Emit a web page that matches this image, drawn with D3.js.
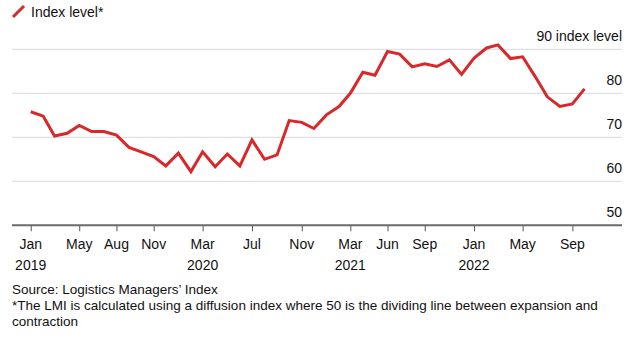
<!DOCTYPE html>
<head>
<meta charset="utf-8">
<script src="https://d3js.org/d3.v7.min.js"></script>
<style>
  body { margin: 0; background: #fff; }
  text { font-family: "Liberation Sans", Arial, sans-serif; fill: #111; }
</style>
</head>
<body>
<div id="chart"></div>
<script>
// Monthly LMI readings, Jan 2019 .. Oct 2022
var startMonth = "2019-01";
var lmi = [75.8, 74.8, 70.3, 70.9, 72.7, 71.3, 71.3, 70.5, 67.7, 66.7, 65.6, 63.5,
           66.4, 62.2, 66.7, 63.3, 66.2, 63.5, 69.4, 65.0, 66.0, 73.8, 73.4, 72.0,
           75.1, 77.0, 80.0, 84.8, 84.1, 89.5, 88.9, 86.0, 86.7, 86.1, 87.6, 84.3,
           88.0, 90.3, 91.0, 87.9, 88.3, 83.8, 79.2, 77.0, 77.6, 81.0];
var yTicks = [50, 60, 70, 80, 90];
var xTicks = ["2019-01", "2019-05", "2019-08", "2019-11", "2020-03", "2020-07", "2020-11",
              "2021-03", "2021-06", "2021-09", "2022-01", "2022-05", "2022-09"];

var parse = d3.timeParse("%Y-%m");
var start = parse(startMonth);
var data = lmi.map(function(v, i) { return {date: d3.timeMonth.offset(start, i), value: v}; });

var W = 644, H = 338;
var plotL = 12, plotR = 622, plotT = 49.3, plotB = 225.3;

var svg = d3.select("#chart").append("svg").attr("width", W).attr("height", H);

var x = d3.scaleTime()
  .domain([parse("2019-01"), parse("2022-09")])
  .range([30.7, 572.4]);
var y = d3.scaleLinear().domain([50, 90]).range([plotB, plotT]);

// gridlines + right-hand labels
svg.append("g").selectAll("line")
  .data(yTicks.filter(function(d) { return d > 50; }))
  .enter().append("line")
    .attr("x1", plotL).attr("x2", plotR)
    .attr("y1", function(d) { return y(d); }).attr("y2", function(d) { return y(d); })
    .attr("stroke", "#d9d9d9").attr("stroke-width", 1);

svg.append("g").selectAll("text")
  .data(yTicks)
  .enter().append("text")
    .attr("x", plotR).attr("y", function(d) { return y(d) - 8; })
    .attr("text-anchor", "end")
    .attr("font-size", 14)
    .text(function(d) { return d === 90 ? "90 index level" : d; });

// bottom axis
var xAxis = svg.append("g")
  .attr("transform", "translate(0," + plotB + ")")
  .call(d3.axisBottom(x)
    .tickValues(xTicks.map(parse))
    .tickSize(6)
    .tickFormat(""));
xAxis.select(".domain").remove();
xAxis.selectAll(".tick line").attr("stroke", "#555").attr("stroke-width", 1);
svg.append("line")
  .attr("x1", plotL).attr("x2", plotR)
  .attr("y1", plotB).attr("y2", plotB)
  .attr("stroke", "#6b6b6b").attr("stroke-width", 2);

// month labels; the year goes under the first tick of each year
var tickDates = xTicks.map(parse);
var lbl = svg.append("g").selectAll("g")
  .data(tickDates)
  .enter().append("g")
    .attr("transform", function(d) { return "translate(" + x(d) + ",0)"; });
lbl.append("text")
  .attr("y", 249).attr("text-anchor", "middle").attr("font-size", 14)
  .text(d3.timeFormat("%b"));
lbl.filter(function(d, i) { return i === 0 || d.getFullYear() !== tickDates[i - 1].getFullYear(); })
  .append("text")
  .attr("y", 270).attr("text-anchor", "middle").attr("font-size", 14)
  .text(d3.timeFormat("%Y"));

// the series
svg.append("path")
  .datum(data)
  .attr("fill", "none")
  .attr("stroke", "#d8282a")
  .attr("stroke-width", 3)
  .attr("stroke-linejoin", "miter")
  .attr("d", d3.line()
    .x(function(d) { return x(d.date); })
    .y(function(d) { return y(d.value); }));

// legend
svg.append("line")
  .attr("x1", 13).attr("y1", 17).attr("x2", 24).attr("y2", 6)
  .attr("stroke", "#d8282a").attr("stroke-width", 3);
svg.append("text")
  .attr("x", 31).attr("y", 17).attr("font-size", 14)
  .text("Index level*");

// source + note
var notes = ["Source: Logistics Managers\u2019 Index",
             "*The LMI is calculated using a diffusion index where 50 is the dividing line between expansion and",
             "contraction"];
svg.append("g").selectAll("text")
  .data(notes)
  .enter().append("text")
    .attr("x", 12).attr("y", function(d, i) { return 294 + i * 16; })
    .attr("font-size", 13.5)
    .attr("fill", "#222")
    .text(function(d) { return d; });
</script>
</body>
